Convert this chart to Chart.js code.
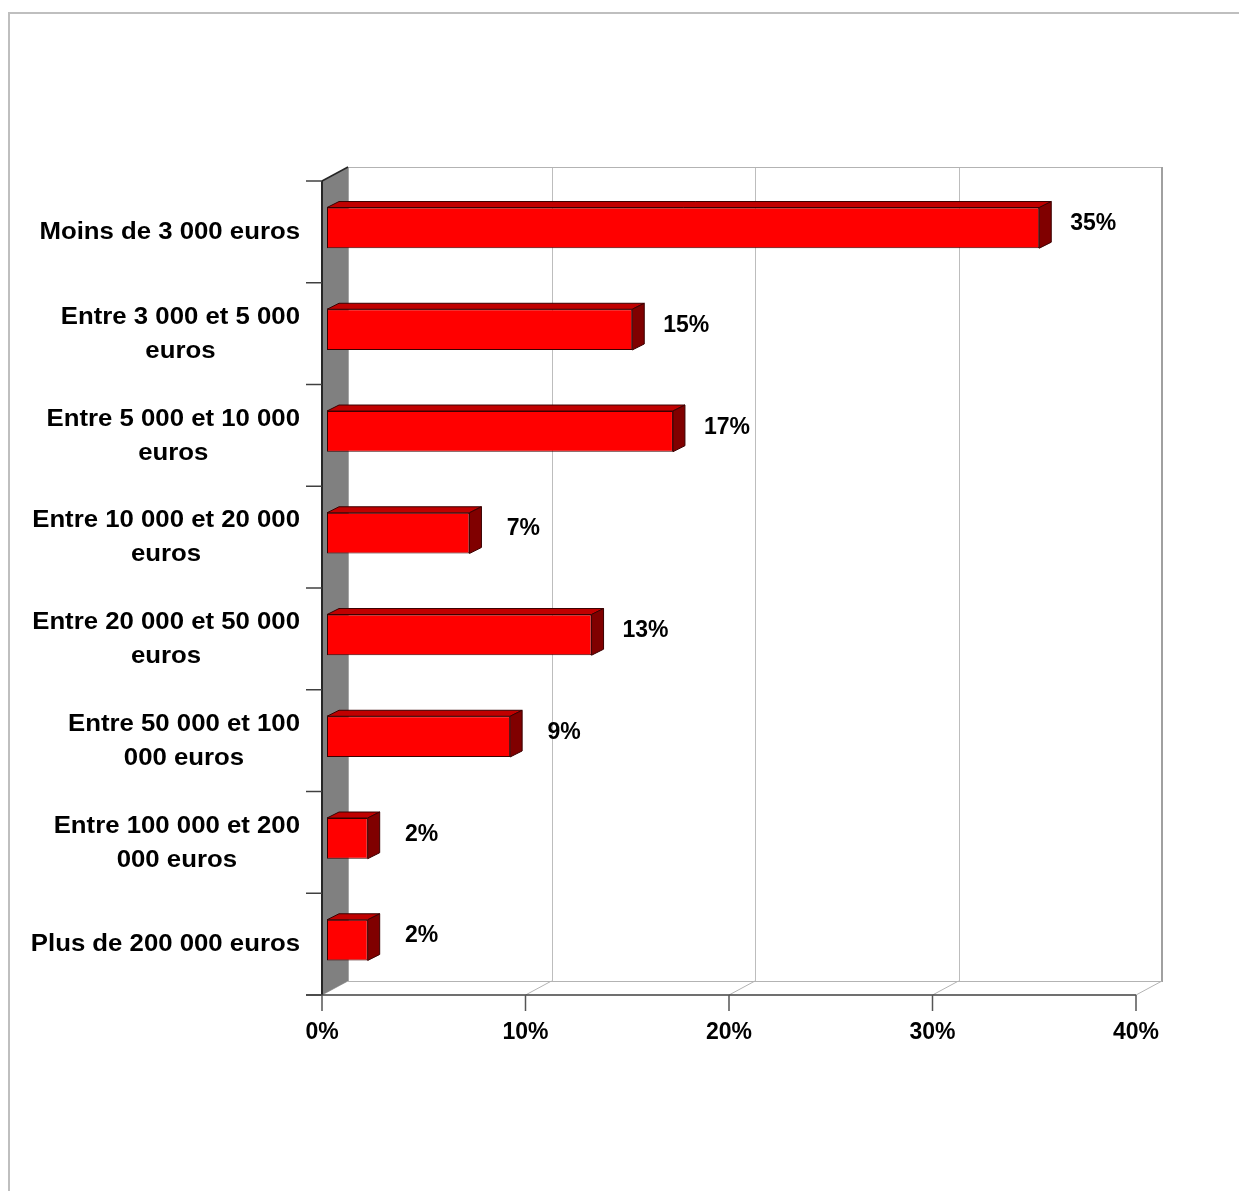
<!DOCTYPE html>
<html lang="fr">
<head>
<meta charset="utf-8">
<title>Répartition par tranche</title>
<script src="https://cdn.jsdelivr.net/npm/chart.js@4.4.1/dist/chart.umd.min.js"></script>
<style>
  html, body { margin: 0; padding: 0; background: #fff; }
  canvas { display: block; }
</style>
</head>
<body>
<canvas id="myChart" width="1239" height="1191"></canvas>
<script>
// tranches (libellés sur plusieurs lignes comme dans le rapport)
const categories = [
  'Moins de 3 000 euros',
  ['Entre 3 000 et 5 000', 'euros'],
  ['Entre 5 000 et 10 000', 'euros'],
  ['Entre 10 000 et 20 000', 'euros'],
  ['Entre 20 000 et 50 000', 'euros'],
  ['Entre 50 000 et 100', '000 euros'],
  ['Entre 100 000 et 200', '000 euros'],
  'Plus de 200 000 euros'
];
const values = [35, 15, 17, 7, 13, 9, 2, 2];
const xTicks = [0, 10, 20, 30, 40];

// décalages pseudo 3D par rapport au plan des barres
const front = { dx: -5, dy: 4 };
const back = { dx: 21, dy: -10 };
const depth = { dx: 12, dy: -6 };

const police = '"Liberation Sans", Arial, sans-serif';

const fond3D = {
  id: 'fond3D',
  beforeDatasetsDraw(chart) {
    const c = chart.ctx;
    const a = chart.chartArea;
    const sx = chart.scales.x;
    const sy = chart.scales.y;

    const fTop = a.top + front.dy, fBot = a.bottom + front.dy;
    const bTop = a.top + back.dy, bBot = a.bottom + back.dy;
    const fx = v => sx.getPixelForValue(v) + front.dx;
    const bx = v => sx.getPixelForValue(v) + back.dx;
    const x0f = fx(0), x0b = bx(0), xMaxF = fx(40), xMaxB = bx(40);

    c.save();

    // cadre du graphique
    c.strokeStyle = '#bfbfbf';
    c.lineWidth = 2;
    c.strokeRect(9, 13, 1300, 1300);

    // mur du fond : grille verticale
    c.lineWidth = 1;
    c.strokeStyle = '#bdbdbd';
    xTicks.forEach(t => {
      if (t === 0 || t === 40) return;
      c.beginPath();
      c.moveTo(Math.round(bx(t)) + 0.5, bTop);
      c.lineTo(Math.round(bx(t)) + 0.5, bBot);
      c.stroke();
    });
    // contour du mur du fond
    c.strokeStyle = '#b3b3b3';
    c.beginPath();
    c.moveTo(x0b, bTop + 0.5);
    c.lineTo(xMaxB, bTop + 0.5);
    c.moveTo(x0b, bBot + 0.5);
    c.lineTo(xMaxB, bBot + 0.5);
    c.stroke();
    c.lineWidth = 2;
    c.strokeStyle = '#a0a0a0';
    c.beginPath();
    c.moveTo(xMaxB, bTop);
    c.lineTo(xMaxB, bBot + 1);
    c.stroke();

    // sol : diagonales depuis les graduations
    c.lineWidth = 1;
    c.strokeStyle = '#b3b3b3';
    xTicks.forEach(t => {
      c.beginPath();
      c.moveTo(fx(t), fBot);
      c.lineTo(bx(t), bBot);
      c.stroke();
    });

    // mur gauche gris
    c.fillStyle = '#808080';
    c.beginPath();
    c.moveTo(x0f, fTop);
    c.lineTo(x0b, bTop);
    c.lineTo(x0b, bBot);
    c.lineTo(x0f, fBot);
    c.closePath();
    c.fill();
    c.strokeStyle = '#a6a6a6';
    c.beginPath();
    c.moveTo(x0b + 0.5, bTop);
    c.lineTo(x0b + 0.5, bBot);
    c.stroke();
    c.strokeStyle = '#262626';
    c.lineWidth = 1.5;
    c.beginPath();
    c.moveTo(x0f, fTop);
    c.lineTo(x0b, bTop);
    c.stroke();

    // axe vertical avant + graduations
    c.lineWidth = 2;
    c.beginPath();
    c.moveTo(x0f, fTop);
    c.lineTo(x0f, fBot);
    c.stroke();
    c.lineWidth = 1.5;
    c.strokeStyle = '#404040';
    const pas = (fBot - fTop) / categories.length;
    for (let i = 0; i <= categories.length; i++) {
      const y = fTop + i * pas;
      c.beginPath();
      c.moveTo(x0f - 16, y);
      c.lineTo(x0f, y);
      c.stroke();
    }

    // axe horizontal avant + graduations
    c.beginPath();
    c.moveTo(x0f - 16, fBot);
    c.lineTo(xMaxF, fBot);
    c.stroke();
    c.fillStyle = '#000';
    c.font = 'bold 23px ' + police;
    c.textAlign = 'center';
    c.textBaseline = 'middle';
    xTicks.forEach(t => {
      c.strokeStyle = '#555';
      c.beginPath();
      c.moveTo(fx(t), fBot);
      c.lineTo(fx(t), fBot + 16);
      c.stroke();
      c.fillText(t + '%', fx(t), fBot + 38);
    });

    // libellés des catégories : bloc aligné à droite, lignes centrées,
    // police légèrement étirée en largeur
    const etire = 1.12;
    categories.forEach((lab, i) => {
      const lignes = Array.isArray(lab) ? lab : [lab];
      const larg = Math.max(...lignes.map(l => c.measureText(l).width)) * etire;
      const cx = 300 - larg / 2;
      const cy = sy.getPixelForValue(i) + 5;
      const h = 34;
      lignes.forEach((l, k) => {
        c.save();
        c.translate(cx, cy + (k - (lignes.length - 1) / 2) * h);
        c.scale(etire, 1);
        c.fillText(l, 0, 0);
        c.restore();
      });
    });
    c.restore();
  }
};

const barres3D = {
  id: 'barres3D',
  afterDatasetsDraw(chart) {
    const c = chart.ctx;
    const meta = chart.getDatasetMeta(0);
    c.save();
    c.lineWidth = 1;
    c.strokeStyle = '#3a0000';
    meta.data.forEach((bar, i) => {
      const p = bar.getProps(['x', 'y', 'base', 'height'], true);
      const x0 = p.base, x1 = p.x;
      const yT = p.y - p.height / 2, yB = p.y + p.height / 2;

      // dessus
      c.fillStyle = '#c00000';
      c.beginPath();
      c.moveTo(x0, yT);
      c.lineTo(x0 + depth.dx, yT + depth.dy);
      c.lineTo(x1 + depth.dx, yT + depth.dy);
      c.lineTo(x1, yT);
      c.closePath();
      c.fill();
      c.stroke();

      // côté droit
      c.fillStyle = '#800000';
      c.beginPath();
      c.moveTo(x1, yT);
      c.lineTo(x1 + depth.dx, yT + depth.dy);
      c.lineTo(x1 + depth.dx, yB + depth.dy);
      c.lineTo(x1, yB);
      c.closePath();
      c.fill();
      c.stroke();

      // étiquette de valeur
      c.fillStyle = '#000';
      c.font = 'bold 23px ' + police;
      c.textAlign = 'center';
      c.textBaseline = 'middle';
      c.fillText(values[i] + '%', x1 + 54, p.y - 4);
    });
    c.restore();
  }
};

const ctx = document.getElementById('myChart').getContext('2d');

new Chart(ctx, {
  type: 'bar',
  data: {
    labels: categories,
    datasets: [{
      data: values,
      backgroundColor: '#ff0000',
      borderColor: '#3a0000',
      borderWidth: 1,
      borderSkipped: false,
      barPercentage: 0.4,
      categoryPercentage: 1
    }]
  },
  options: {
    indexAxis: 'y',
    responsive: false,
    animation: false,
    layout: {
      padding: { left: 327, right: 98, top: 177, bottom: 200 }
    },
    scales: {
      x: { display: false, min: 0, max: 40 },
      y: { display: false }
    },
    plugins: {
      legend: { display: false },
      tooltip: { enabled: false }
    }
  },
  plugins: [fond3D, barres3D]
});
</script>
</body>
</html>
